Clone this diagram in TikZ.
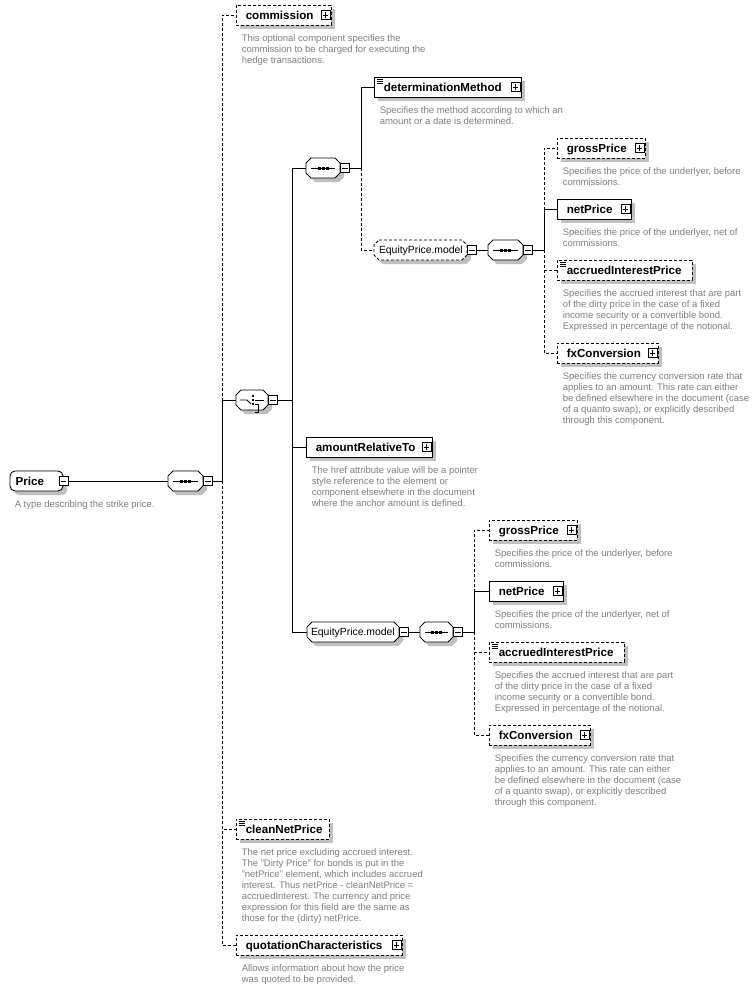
\documentclass[tikz,border=0pt]{standalone}
\usepackage{fontspec}
\setmainfont{Liberation Sans}
\usetikzlibrary{shadows}
\definecolor{shadowgray}{RGB}{192,192,192}
\definecolor{desc}{RGB}{128,128,128}
\tikzset{
  sh/.style={drop shadow={shadow xshift=4pt,shadow yshift=-4pt,fill=shadowgray,opacity=1}},
  dsh/.style={dash pattern=on 3pt off 2pt},
  conn/.style={line width=0.9pt},
  elembox/.style={draw,fill=white,sh,minimum height=20pt,inner sep=0pt,line width=0.9pt},
  elemtext/.style={font=\fontsize{11.6}{14}\selectfont\bfseries,inner sep=0pt,anchor=base west},
  grptext/.style={font=\fontsize{10.4}{12}\selectfont,inner sep=0pt,anchor=base west},
  desctext/.style={font=\fontsize{9.5}{11}\selectfont,text=desc,align=left,inner sep=0pt,anchor=north west},
  pm/.style={draw,fill=white,minimum size=9pt,inner sep=0pt,line width=0.9pt},
  plusbox/.style={pm,path picture={
     \draw[line width=0.9pt] ([xshift=-2.6pt]path picture bounding box.center) -- ([xshift=2.6pt]path picture bounding box.center);
     \draw[line width=0.9pt] ([yshift=-2.6pt]path picture bounding box.center) -- ([yshift=2.6pt]path picture bounding box.center);}},
  minusbox/.style={pm,path picture={
     \draw[line width=0.9pt] ([xshift=-2.6pt]path picture bounding box.center) -- ([xshift=2.6pt]path picture bounding box.center);}},
}
% octagon outline
\newcommand\octpath[3]{({#1+5},{#3-10}) -- ({#2-5},{#3-10}) -- (#2,{#3-5}) -- (#2,{#3+5}) -- ({#2-5},{#3+10}) -- ({#1+5},{#3+10}) -- (#1,{#3+5}) -- (#1,{#3-5}) -- cycle}
% \octshape{name}{xl}{xr}{y}{style}
\newcommand\octshape[5]{%
  \fill[shadowgray,shift={(4,4)}] \octpath{#2}{#3}{#4};
  \draw[fill=white,line width=0.9pt,#5] \octpath{#2}{#3}{#4};
  \node[inner sep=0pt,minimum width={#3-#2},minimum height=20pt] (#1) at ({(#2+#3)/2},#4) {};
  \node[minusbox] (#1-m) at ({#3+5},#4) {};
}
% sequence compositor
\newcommand\seqshape[4]{%
  \octshape{#1}{#2}{#3}{#4}{}
  \draw[line width=0.9pt] ([xshift=5pt]#1.west) -- ([xshift=-5pt]#1.east);
  \foreach \d in {-4,0,4} \fill ([xshift=\d pt]#1.center) ++(-1.5,-1.5) rectangle ++(3,3);
}
% element: name, xl, xr, y, style, text
\newcommand\elem[6]{%
  \node[elembox,#5,minimum width={#3-#2}] (#1) at ({(#2+#3)/2},#4) {};
  \node[elemtext] (#1-t) at ([xshift=10pt,yshift=-4.2pt]#1.west) {#6};
}
\newcommand\addplus[1]{\node[plusbox] (#1-p) at ([xshift=-6pt]#1.east) {};}
\newcommand\addicon[1]{%
  \foreach \k in {3,5,7} \draw[line width=0.7pt] ([xshift=3pt,yshift=-\k pt]#1.north west) -- ++(6,0);}
\newcommand\desc[2]{\node[desctext] (#1-d) at ([xshift=6pt,yshift=-9pt]#1.south west) {#2};}

\begin{document}
\begin{tikzpicture}[x=1pt,y=-1pt]
\useasboundingbox[fill=white] (0,0) rectangle (754,989);

% ---------- Price ----------
\node[elembox,rounded corners=5pt,minimum width=53pt] (price) at (36.5,481) {};
\node[elemtext] (price-t) at ([xshift=6pt,yshift=-4.2pt]price.west) {Price};
\node[minusbox] (price-m) at (price.east) {};
\node[desctext] (price-d) at ([xshift=5pt,yshift=-9pt]price.south west) {A type describing the strike price.};

\seqshape{seqA}{168}{203}{481}

% ---------- level 1 ----------
\elem{commission}{236}{331}{15}{dsh}{commission}\addplus{commission}
\desc{commission}{This optional component specifies the\\commission to be charged for executing the\\hedge transactions.}

\octshape{choice}{236}{268}{400}{}
\draw[line width=0.9pt] ([xshift=4pt]choice.west) -- ([xshift=-5pt]choice.center) -- ([xshift=-1pt,yshift=-4pt]choice.center);
\foreach \k in {-4,0,4} \fill ([xshift=1pt,yshift=\k pt]choice.center) ++(-1,-1) rectangle ++(2.2,2.2);
\draw[line width=0.9pt] ([xshift=3pt,yshift=-4pt]choice.center) -- ++(3,0) -- ++(0,8) -- ++(-3,0);
\draw[line width=0.9pt] ([xshift=3pt]choice.center) -- ([xshift=-4pt]choice.east);

\elem{cleanNetPrice}{236}{329}{829}{dsh}{cleanNetPrice}\addicon{cleanNetPrice}
\desc{cleanNetPrice}{The net price excluding accrued interest.\\The "Dirty Price" for bonds is put in the\\"netPrice" element, which includes accrued\\interest. Thus netPrice - cleanNetPrice =\\accruedInterest. The currency and price\\expression for this field are the same as\\those for the (dirty) netPrice.}

\elem{quotation}{236}{402}{945}{dsh}{quotationCharacteristics}\addplus{quotation}
\desc{quotation}{Allows information about how the price\\was quoted to be provided.}

% ---------- level 2 ----------
\seqshape{seqB}{306}{340}{168}
\elem{amountRel}{306}{432}{447}{}{amountRelativeTo}\addplus{amountRel}
\desc{amountRel}{The href attribute value will be a pointer\\style reference to the element or\\component elsewhere in the document\\where the anchor amount is defined.}

\octshape{epmB}{307}{399}{632}{}
\node[grptext] (epmB-t) at ([xshift=4pt,yshift=-3.8pt]epmB.west) {EquityPrice.model};
\seqshape{seqD}{420}{453}{632}

% ---------- level 3 (upper) ----------
\elem{detMethod}{374}{521}{87}{}{determinationMethod}\addplus{detMethod}\addicon{detMethod}
\desc{detMethod}{Specifies the method according to which an\\amount or a date is determined.}

\octshape{epmA}{374}{467}{250}{dsh}
\node[grptext] (epmA-t) at ([xshift=5pt,yshift=-3.8pt]epmA.west) {EquityPrice.model};
\seqshape{seqC}{488}{523}{250}

\elem{grossA}{557}{645}{148}{dsh}{grossPrice}\addplus{grossA}
\desc{grossA}{Specifies the price of the underlyer, before\\commissions.}
\elem{netA}{557}{631}{209}{}{netPrice}\addplus{netA}
\desc{netA}{Specifies the price of the underlyer, net of\\commissions.}
\elem{accA}{557}{692}{270}{dsh}{accruedInterestPrice}\addicon{accA}
\desc{accA}{Specifies the accrued interest that are part\\of the dirty price in the case of a fixed\\income security or a convertible bond.\\Expressed in percentage of the notional.}
\elem{fxA}{557}{658}{353}{dsh}{fxConversion}\addplus{fxA}
\desc{fxA}{Specifies the currency conversion rate that\\applies to an amount. This rate can either\\be defined elsewhere in the document (case\\of a quanto swap), or explicitly described\\through this component.}

% ---------- level 3 (lower) ----------
\elem{grossB}{489}{577}{530}{dsh}{grossPrice}\addplus{grossB}
\desc{grossB}{Specifies the price of the underlyer, before\\commissions.}
\elem{netB}{489}{563}{591}{}{netPrice}\addplus{netB}
\desc{netB}{Specifies the price of the underlyer, net of\\commissions.}
\elem{accB}{489}{624}{652}{dsh}{accruedInterestPrice}\addicon{accB}
\desc{accB}{Specifies the accrued interest that are part\\of the dirty price in the case of a fixed\\income security or a convertible bond.\\Expressed in percentage of the notional.}
\elem{fxB}{489}{590}{735}{dsh}{fxConversion}\addplus{fxB}
\desc{fxB}{Specifies the currency conversion rate that\\applies to an amount. This rate can either\\be defined elsewhere in the document (case\\of a quanto swap), or explicitly described\\through this component.}

% ---------- connectors ----------
\coordinate (b1) at (222,481);
\coordinate (b2) at (292,400);
\coordinate (b3) at (361,168);
\coordinate (b4) at (544,250);
\coordinate (b5) at (474,632);

\draw[conn] (price-m.east) -- (seqA.west);
\draw[conn] (seqA-m.east) -- (b1);
\draw[conn,dsh] (b1) |- (commission.west);
\draw[conn,dsh] (b1) |- (cleanNetPrice.west);
\draw[conn,dsh] (b1) |- (quotation.west);
\draw[conn] (b1) |- (choice.west);

\draw[conn] (choice-m.east) -- (b2);
\draw[conn] (b2) |- (seqB.west);
\draw[conn] (b2) |- (amountRel.west);
\draw[conn] (b2) |- (epmB.west);

\draw[conn] (seqB-m.east) -- (b3);
\draw[conn,dsh] (b3) |- (epmA.west);
\draw[conn] (b3) |- (detMethod.west);

\draw[conn] (epmA-m.east) -- (seqC.west);
\draw[conn] (seqC-m.east) -- (b4);
\draw[conn,dsh] (b4) |- (grossA.west);
\draw[conn,dsh] (b4) |- (accA.west);
\draw[conn,dsh] (b4) |- (fxA.west);
\draw[conn] (b4) |- (netA.west);

\draw[conn] (epmB-m.east) -- (seqD.west);
\draw[conn] (seqD-m.east) -- (b5);
\draw[conn,dsh] (b5) |- (grossB.west);
\draw[conn,dsh] (b5) |- (accB.west);
\draw[conn,dsh] (b5) |- (fxB.west);
\draw[conn] (b5) |- (netB.west);
\end{tikzpicture}
\end{document}
